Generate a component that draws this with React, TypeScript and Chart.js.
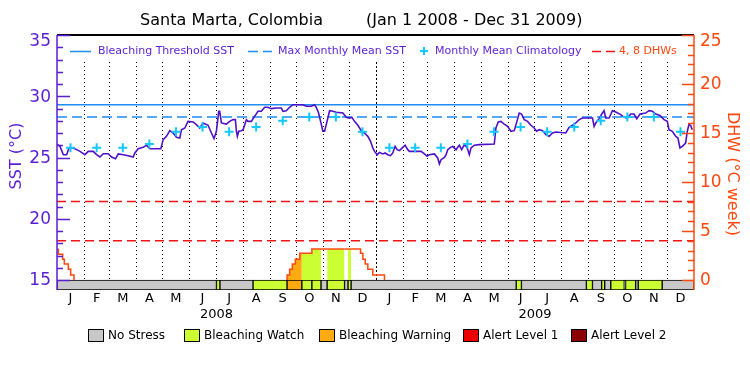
import React, { useEffect, useRef } from 'react';
import { Chart, registerables } from 'chart.js';

Chart.register(...registerables);

// ---------- data ----------
const monthStarts = [0, 31, 60, 91, 121, 152, 182, 213, 244, 274, 305, 335, 366, 397, 425, 456, 486, 517, 547, 578, 609, 639, 670, 700, 731];
const monthLetters = ['J', 'F', 'M', 'A', 'M', 'J', 'J', 'A', 'S', 'O', 'N', 'D'];
const yearLabels = ['2008', '2009'];
const climatology = [25.8, 25.8, 25.8, 26.1, 27.1, 27.5, 27.1, 27.5, 28.0, 28.3, 28.3, 27.1];
const bleachingThreshold = 29.3;
const maxMonthlyMean = 28.3;
const dhwLines = [4, 8];
const leftTicks = [15, 20, 25, 30, 35];
const rightTicks = [0, 5, 10, 15, 20, 25];

// [day since Jan 1 2008, SST °C]
const sstReadings: [number, number][] = [
  [0, 26.1], [3.4, 25.91], [7.3, 25.23], [11.1, 25.23], [13.7, 25.78], [18.7, 25.78], [22.5, 25.64], [26.4, 25.5], [32, 25.23], [35.9, 25.5],
  [41.6, 25.5], [45.4, 25.23], [49.3, 25.04], [53.1, 25.31], [58.8, 25.31], [62.6, 25.04], [67.2, 24.9], [70.3, 25.29], [76, 25.23], [81.7, 25.15],
  [87.4, 25.04], [89.4, 25.37], [93.2, 25.72], [98.9, 25.83], [102.7, 26.0], [106.5, 25.72], [112.3, 25.72], [119.2, 25.72], [121.8, 26.46], [125.6, 26.73],
  [129.5, 27.19], [133.3, 27.0], [137.1, 26.65], [140.9, 26.59], [142.8, 27.27], [146.7, 27.41], [150.4, 27.95], [156.2, 27.9], [160, 27.68], [163.8, 27.41],
  [167.6, 27.82], [173.4, 27.63], [177.2, 27.0], [180.2, 26.54], [182.9, 27.14], [185.6, 28.77], [186.7, 28.77], [188.7, 27.82], [194.4, 27.73], [198.2, 27.95],
  [202, 28.09], [204.7, 28.09], [205.9, 27.14], [207, 26.73], [208.5, 27.14], [211.6, 27.19], [213.5, 27.27], [217.3, 28.09], [219.2, 27.95], [223, 27.95],
  [226.8, 28.36], [230.7, 28.77], [234.5, 28.77], [238.3, 29.1], [242.1, 29.1], [245.9, 28.99], [251.7, 29.04], [257.4, 29.04], [259.3, 28.77], [263.1, 28.82],
  [266.9, 29.1], [270.8, 29.31], [282.2, 29.31], [286, 29.18], [291.8, 29.18], [295.6, 29.31], [297.5, 29.1], [300.2, 28.63], [302.5, 27.95], [305.1, 27.14],
  [307.1, 27.14], [309, 27.68], [312.8, 28.82], [316.6, 28.77], [320.4, 28.69], [328.1, 28.63], [331.9, 28.28], [335.7, 28.22], [338.4, 28.28], [341.4, 27.95],
  [345.3, 27.63], [349.1, 27.19], [352.9, 27.0], [356.7, 26.73], [359.8, 26.32], [362.4, 25.78], [364.4, 25.5], [367.4, 25.23], [370.1, 25.42], [373.9, 25.29],
  [376.6, 25.37], [379.6, 25.23], [382.7, 25.15], [385.3, 25.37], [388, 25.91], [390.3, 25.64], [393, 25.56], [396.8, 25.83], [399.5, 26.0], [402.5, 25.64],
  [404.4, 25.5], [417.8, 25.5], [421.6, 25.29], [424.7, 25.1], [427.4, 25.23], [433.1, 25.29], [436.9, 24.96], [438.8, 24.47], [440.7, 24.82], [444.6, 25.01],
  [446.5, 25.23], [448.4, 25.64], [451.5, 25.83], [454.1, 25.91], [457.9, 25.64], [459.8, 25.83], [461.7, 26.0], [464.4, 25.64], [467.5, 26.05], [470.5, 25.83],
  [473.2, 25.23], [475.1, 25.78], [478.9, 26.0], [484.6, 26.05], [501.8, 26.1], [503.7, 27.41], [506.4, 27.9], [509.4, 27.95], [513.2, 27.73], [517.1, 27.54],
  [520.9, 27.14], [524.7, 27.19], [527.8, 27.95], [530.4, 28.63], [533.1, 28.55], [536.2, 28.09], [540, 27.95], [543.8, 27.63], [547.6, 27.41], [550.3, 27.14],
  [553.4, 27.27], [557.2, 27.19], [561, 26.86], [564.8, 26.73], [568.6, 27.0], [572.5, 27.08], [583.9, 27.0], [587.7, 27.46], [591.6, 27.63], [595.4, 27.82],
  [599.2, 28.09], [603, 28.22], [614.5, 28.22], [616.4, 27.54], [618.3, 27.82], [622.1, 28.17], [625.9, 28.63], [627.8, 28.82], [629.7, 28.22], [633.6, 28.22],
  [637.4, 28.82], [641.2, 28.71], [646.9, 28.5], [650.8, 28.28], [654.6, 28.22], [658.4, 28.55], [662.2, 28.55], [665.3, 28.17], [669.1, 28.55], [675.6, 28.63],
  [679.4, 28.82], [683.2, 28.77], [687, 28.55], [692, 28.44], [696.6, 28.09], [700.4, 27.95], [702.3, 27.27], [706.1, 27.14], [710, 26.73], [712.6, 26.59],
  [714.9, 25.78], [717.6, 25.91], [721.4, 26.18], [723.3, 27.14], [725.2, 27.68], [727.1, 27.63], [729, 27.27],
];

// [day, DHW °C-weeks] (stepwise; null = gap)
const dhwReadings: [number, number | null][] = [
  [0, 3.13], [1.5, 2.62], [6.5, 2.11], [8.4, 1.63], [13, 1.09], [15.7, 0.51], [19.5, 0], [100, null],
  [264, 0], [264, 0.51], [267, 1.09], [270, 1.63], [273.5, 2.11], [278.5, 2.72], [281, 2.72], [292.5, 3.16], [303, 3.16],
  [310, 3.16], [330, 3.16], [334, 3.16], [337.5, 3.16], [348.3, 2.72], [351, 2.11], [353.7, 1.63], [356.7, 1.09], [362.4, 0.51], [375.8, 0],
];

// [start day, end day, stress level]
const stressPeriods: [number, number, number][] = [
  [0, 183, 0], [183, 187, 1], [187, 225, 0], [225, 264, 1], [264, 281, 2], [281, 292.5, 1], [292.5, 303, 1], [303, 310, 0],
  [310, 330, 1], [330, 334, 0], [334, 337.5, 1], [337.5, 527, 0], [527, 533, 1], [533, 607.5, 0], [607.5, 614.5, 1], [614.5, 625, 0],
  [625, 628.5, 1], [628.5, 635.5, 0], [635.5, 651, 1], [651, 652.5, 0], [652.5, 664, 1], [664, 667, 0], [667, 694.5, 1], [694.5, 731, 0],
];
const stressNames = ['No Stress', 'Bleaching Watch', 'Bleaching Warning', 'Alert Level 1', 'Alert Level 2'];
const stressColors = ['#c8c8c8', '#ccff33', '#ffaa11', '#ee0000', '#8b0000'];

// ---------- styles ----------
const FONT = '"DejaVu Sans", "Liberation Sans", sans-serif';
const PURPLE = '#5a1ed2';
const SST_COLOR = '#5010c8';
const BLUE = '#1e8cf0';
const CYAN = '#14c8ff';
const ORANGE = '#ff4810';
const RED = '#f01414';
const Y_MIN = 14.184;
const Y2_MIN = -1.02;
const STRESS_MID = (Y_MIN + leftTicks[0]) / 2;

const levelAt = (d: number) => {
  for (const [s, e, l] of stressPeriods) if (d >= s && d < e) return l;
  return 0;
};

const decor = {
  id: 'decor',
  beforeDatasetsDraw(chart: any) {
    const { ctx, chartArea: a, scales } = chart;
    const x = scales.x, y = scales.y;
    const yb = y.getPixelForValue(15);
    ctx.save();
    ctx.strokeStyle = '#000';
    ctx.lineWidth = 1;
    for (let i = 1; i < monthStarts.length - 1; i++) {
      const px = Math.round(x.getPixelForValue(monthStarts[i])) + 0.5;
      ctx.setLineDash(i === 12 ? [2, 2] : [1, 3]);
      ctx.beginPath();
      ctx.moveTo(px, a.top + 27);
      ctx.lineTo(px, yb);
      ctx.stroke();
    }
    ctx.restore();
  },
  afterDraw(chart: any) {
    const { ctx, chartArea: a, scales } = chart;
    const x = scales.x, y = scales.y, y2 = scales.y2;
    ctx.save();
    // top border
    ctx.strokeStyle = '#000';
    ctx.lineWidth = 2;
    ctx.beginPath(); ctx.moveTo(a.left, a.top); ctx.lineTo(a.right, a.top); ctx.stroke();
    // left axis
    ctx.strokeStyle = PURPLE;
    ctx.lineWidth = 1.5;
    ctx.beginPath(); ctx.moveTo(a.left, a.top); ctx.lineTo(a.left, a.bottom); ctx.stroke();
    for (let v = leftTicks[0]; v <= leftTicks[leftTicks.length - 1]; v++) {
      const py = Math.round(y.getPixelForValue(v)) + 0.5;
      const len = v % 5 === 0 ? 13 : 6;
      ctx.beginPath(); ctx.moveTo(a.left, py); ctx.lineTo(a.left + len, py); ctx.stroke();
    }
    // right axis
    ctx.strokeStyle = ORANGE;
    ctx.beginPath(); ctx.moveTo(a.right, a.top); ctx.lineTo(a.right, a.bottom); ctx.stroke();
    for (let v = rightTicks[0]; v <= rightTicks[rightTicks.length - 1]; v++) {
      const py = Math.round(y2.getPixelForValue(v)) + 0.5;
      const len = v % 5 === 0 ? 12 : 6;
      ctx.beginPath(); ctx.moveTo(a.right, py); ctx.lineTo(a.right - len, py); ctx.stroke();
    }
    // tick labels
    ctx.font = `17px ${FONT}`;
    ctx.textBaseline = 'middle';
    ctx.fillStyle = PURPLE;
    ctx.textAlign = 'right';
    leftTicks.forEach(v => ctx.fillText(String(v), a.left - 6, Math.max(y.getPixelForValue(v), a.top + 6) + 1));
    ctx.fillStyle = ORANGE;
    ctx.textAlign = 'left';
    rightTicks.forEach(v => ctx.fillText(String(v), a.right + 6, Math.max(y2.getPixelForValue(v), a.top + 6) + 1));
    // axis titles
    ctx.textAlign = 'center';
    ctx.font = `16px ${FONT}`;
    ctx.fillStyle = PURPLE;
    ctx.save(); ctx.translate(17, 156); ctx.rotate(-Math.PI / 2); ctx.fillText('SST (°C)', 0, 0); ctx.restore();
    ctx.fillStyle = ORANGE;
    ctx.save(); ctx.translate(732, 174); ctx.rotate(Math.PI / 2); ctx.fillText('DHW (°C week)', 0, 0); ctx.restore();
    // months & years
    ctx.fillStyle = '#000';
    ctx.font = `13px ${FONT}`;
    for (let i = 0; i < monthStarts.length - 1; i++) {
      const cx = x.getPixelForValue((monthStarts[i] + monthStarts[i + 1]) / 2);
      ctx.fillText(monthLetters[i % 12], cx, a.bottom + 9);
    }
    yearLabels.forEach((t, k) => {
      const cx = x.getPixelForValue((monthStarts[k * 12] + monthStarts[k * 12 + 12]) / 2);
      ctx.fillText(t, cx, a.bottom + 25);
    });
    // title
    ctx.font = `16px ${FONT}`;
    ctx.textAlign = 'right';
    ctx.fillText('Santa Marta, Colombia', 323, 21);
    ctx.textAlign = 'left';
    ctx.fillText('(Jan 1 2008 - Dec 31 2009)', 366, 21);
    // top legend
    const ly = 51;
    ctx.font = `11px ${FONT}`;
    ctx.lineWidth = 1.5;
    ctx.strokeStyle = BLUE;
    ctx.beginPath(); ctx.moveTo(70, ly + 0.5); ctx.lineTo(91, ly + 0.5); ctx.stroke();
    ctx.setLineDash([10, 5]);
    ctx.beginPath(); ctx.moveTo(248, ly + 0.5); ctx.lineTo(272, ly + 0.5); ctx.stroke();
    ctx.strokeStyle = RED;
    ctx.setLineDash([9, 5]);
    ctx.beginPath(); ctx.moveTo(592, ly + 0.5); ctx.lineTo(615, ly + 0.5); ctx.stroke();
    ctx.setLineDash([]);
    ctx.strokeStyle = CYAN;
    ctx.lineWidth = 2;
    ctx.beginPath(); ctx.moveTo(424, ly - 4); ctx.lineTo(424, ly + 4); ctx.moveTo(420, ly); ctx.lineTo(428, ly); ctx.stroke();
    ctx.fillStyle = PURPLE;
    ctx.fillText('Bleaching Threshold SST', 98, ly);
    ctx.fillText('Max Monthly Mean SST', 278, ly);
    ctx.fillText('Monthly Mean Climatology', 435, ly);
    ctx.fillStyle = ORANGE;
    ctx.fillText('4, 8 DHWs', 619, ly);
    // bottom legend
    const boxX = [88, 184, 319, 463, 571];
    ctx.font = `12px ${FONT}`;
    ctx.lineWidth = 1;
    stressNames.forEach((n, i) => {
      ctx.fillStyle = stressColors[i];
      ctx.fillRect(boxX[i] + 0.5, 329.5, 15, 12);
      ctx.strokeStyle = '#000';
      ctx.strokeRect(boxX[i] + 0.5, 329.5, 15, 12);
      ctx.fillStyle = '#000';
      ctx.fillText(n, boxX[i] + 20, 336);
    });
    ctx.restore();
  },
};

export default function App() {
  const ref = useRef<HTMLCanvasElement>(null);
  useEffect(() => {
    const climPoints = monthStarts.slice(0, -1).map((s, i) => ({ x: (s + monthStarts[i + 1]) / 2, y: climatology[i % 12] }));
    const span = (v: number) => [{ x: monthStarts[0], y: v }, { x: monthStarts[monthStarts.length - 1], y: v }];
    const chart = new Chart(ref.current as HTMLCanvasElement, {
      type: 'line',
      data: {
        datasets: [
          {
            type: 'line', label: 'Monthly Mean Climatology', data: climPoints, showLine: false,
            pointStyle: 'cross', pointRadius: 4.5, pointBorderWidth: 2, borderColor: CYAN, backgroundColor: CYAN,
            xAxisID: 'x', yAxisID: 'y', order: 0,
          },
          {
            type: 'line', label: 'SST', data: sstReadings.map(([d, v]) => ({ x: d, y: v })),
            borderColor: SST_COLOR, borderWidth: 1.6, pointRadius: 0, tension: 0, xAxisID: 'x', yAxisID: 'y', order: 1,
          },
          {
            type: 'line', label: 'DHW', data: dhwReadings.map(([d, v]) => ({ x: d, y: v })),
            borderColor: ORANGE, borderWidth: 1.5, pointRadius: 0, stepped: 'before', spanGaps: false,
            fill: 'origin', backgroundColor: 'rgba(0,0,0,0)',
            segment: {
              backgroundColor: (c: any) => {
                const lv = levelAt((c.p0.parsed.x + c.p1.parsed.x) / 2);
                return lv === 0 ? 'rgba(0,0,0,0)' : stressColors[lv];
              },
            },
            xAxisID: 'x', yAxisID: 'y2', order: 2,
          },
          {
            type: 'line', label: 'Bleaching Threshold SST', data: span(bleachingThreshold),
            borderColor: BLUE, borderWidth: 1.5, pointRadius: 0, xAxisID: 'x', yAxisID: 'y', order: 3,
          },
          {
            type: 'line', label: 'Max Monthly Mean SST', data: span(maxMonthlyMean),
            borderColor: BLUE, borderWidth: 1.5, borderDash: [10, 5], pointRadius: 0, xAxisID: 'x', yAxisID: 'y', order: 3,
          },
          ...dhwLines.map(v => ({
            type: 'line' as const, label: `${v} DHW`, data: span(v),
            borderColor: RED, borderWidth: 1.5, borderDash: [9, 5], pointRadius: 0, xAxisID: 'x', yAxisID: 'y2', order: 3,
          })),
          {
            type: 'bar', label: 'Stress', indexAxis: 'y',
            data: stressPeriods.map(([s, e]) => ({ x: [s, e], y: STRESS_MID })) as any,
            backgroundColor: stressPeriods.map(p => stressColors[p[2]]),
            borderColor: '#000', borderWidth: 1, borderSkipped: false, barThickness: 10,
            xAxisID: 'x', yAxisID: 'y', order: 5,
          } as any,
        ],
      },
      options: {
        responsive: false,
        animation: false,
        devicePixelRatio: 1,
        events: [],
        layout: { padding: { left: 57, right: 56, top: 35, bottom: 85 } },
        plugins: { legend: { display: false }, tooltip: { enabled: false } },
        scales: {
          x: { type: 'linear', min: monthStarts[0], max: monthStarts[monthStarts.length - 1], display: false, offset: false },
          y: { type: 'linear', position: 'left', min: Y_MIN, max: 35, display: false, offset: false },
          y2: { type: 'linear', position: 'right', min: Y2_MIN, max: 25, display: false, offset: false },
        },
      } as any,
      plugins: [decor],
    });
    return () => chart.destroy();
  }, []);
  return (
    <div style={{ position: 'absolute', left: 0, top: 0, width: 750, height: 375, background: '#fff' }}>
      <canvas ref={ref} width={750} height={375} style={{ display: 'block' }} />
    </div>
  );
}
